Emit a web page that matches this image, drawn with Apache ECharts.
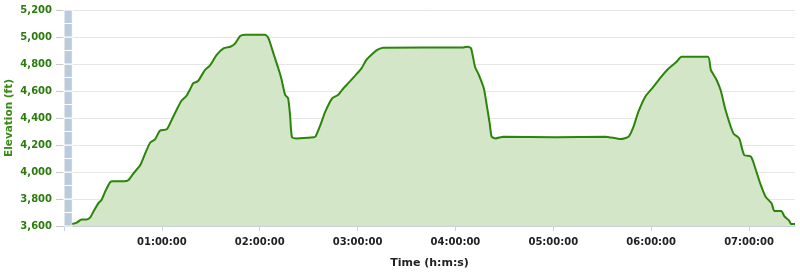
<!DOCTYPE html>
<html>
<head>
<meta charset="utf-8">
<script src="https://cdn.jsdelivr.net/npm/echarts@6/dist/echarts.min.js"></script>
<style>
html,body{margin:0;padding:0;background:#fff;}
#c{width:800px;height:272px;}
</style>
</head>
<body>
<div id="c"></div>
<script>
// elapsed time in minutes
const timeMin = [5.1,7.8,10.8,13.8,16,18,21,23,25.2,28.2,30,36.6,39.6,42.6,46.8,49.8,52.8,55.8,58.8,63,66,69,72,75,77.4,79.2,82.2,86.4,89.4,93.6,97.8,102,105,108,111,123.3,125.4,128.4,131.4,133.2,135.6,137.4,138.6,139.8,142.8,153,154.2,157.2,160.2,164.4,168,170.4,174.6,178.8,182.4,185.4,189,192,195.6,244.8,247.8,249.6,252,254.4,257.4,259.2,261,262.2,264.6,269.4,301.2,331.8,341.4,346.2,349.2,352.2,356.4,360.6,365.4,370.8,375.6,378.6,394.8,396.6,399.6,402.6,405.6,410.4,414,417,421.2,424.2,427.2,430.2,433.8,435.6,439.8,441.6,444.6,445.8,448.2];
// elevation in feet
const elevFt = [3615,3625,3649,3649,3662,3706,3768,3793,3854,3923,3931,3931,3941,3990,4052,4138,4217,4242,4306,4316,4385,4459,4528,4563,4615,4657,4674,4755,4788,4867,4916,4928,4953,5007,5017,5017,4990,4879,4768,4694,4570,4546,4422,4257,4249,4257,4262,4348,4447,4546,4570,4607,4662,4718,4768,4830,4874,4904,4921,4923,4928,4916,4780,4718,4620,4496,4360,4262,4249,4262,4257,4262,4244,4262,4336,4447,4558,4620,4694,4768,4817,4854,4854,4756,4694,4607,4459,4286,4249,4126,4114,4015,3904,3817,3768,3711,3711,3674,3640,3615,3615];
const yTicks = [3600,3800,4000,4200,4400,4600,4800,5000,5200];
const xTicksHours = [1,2,3,4,5,6,7];

const seriesData = timeMin.map((t,i)=>[t, elevFt[i]]);
const yMin = yTicks[0], yMax = yTicks[yTicks.length-1];
const bandEnd = timeMin[0];
const bandSegs = [];
for (let y = yMin; y < yMax; y += 100) {
  bandSegs.push([{xAxis:0, yAxis:y},{xAxis:bandEnd, yAxis:y+100}]);
}
function pad(n){return (n<10?'0':'')+n;}
const FONT = 'Verdana, "DejaVu Sans", sans-serif';

const chart = echarts.init(document.getElementById('c'), null, {renderer:'canvas'});
chart.setOption({
  animation:false,
  backgroundColor:'#ffffff',
  grid:{left:64, right:5, top:10, bottom:46, containLabel:false, outerBoundsMode:'none'},
  xAxis:{
    type:'value', min:0, max:timeMin[timeMin.length-1], interval:60,
    name:'Time (h:m:s)', nameLocation:'middle', nameGap:32, nameMoveOverlap:false,
    nameTextStyle:{color:'#222', fontWeight:'bold', fontSize:11, fontFamily:FONT},
    axisLine:{show:true, lineStyle:{color:'#c8d2dc', width:1}},
    axisTick:{show:true, length:5, lineStyle:{color:'#c8d2dc'}},
    splitLine:{show:false},
    axisLabel:{
      margin:11, color:'#222', fontWeight:'bold', fontSize:10, fontFamily:FONT,
      formatter:function(v){ const h=Math.round(v/60); return xTicksHours.indexOf(h)>=0 ? pad(h)+':00:00' : ''; }
    }
  },
  yAxis:{
    type:'value', min:yMin, max:yMax, interval:200,
    name:'Elevation (ft)', nameLocation:'middle', nameGap:49, nameRotate:90, nameMoveOverlap:false,
    nameTextStyle:{color:'#3a8a1a', fontWeight:'bold', fontSize:10.5, fontFamily:FONT},
    axisLine:{show:false},
    axisTick:{show:true, length:8, lineStyle:{color:'#c8c8c8'}},
    splitLine:{show:true, lineStyle:{color:'#e6e6e6', width:1}},
    axisLabel:{
      margin:12, color:'#2a7a0c', fontWeight:'bold', fontSize:10, fontFamily:FONT,
      formatter:function(v){ return v.toLocaleString('en-US'); }
    }
  },
  series:[{
    type:'line', data:seriesData, showSymbol:false, smooth:0.2,
    lineStyle:{color:'#2a850a', width:2},
    areaStyle:{color:'#d3e6c8', opacity:1},
    markArea:{
      silent:true,
      itemStyle:{color:'#bccbdc', borderColor:'#ffffff', borderWidth:1},
      data:bandSegs
    }
  }]
});
</script>
</body>
</html>
